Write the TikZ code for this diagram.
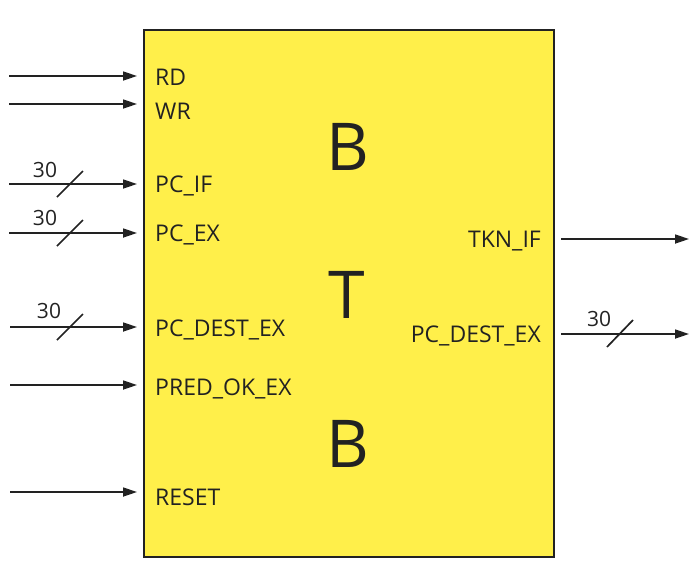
\documentclass[tikz,border=0pt]{standalone}
\usepackage{fontspec}
\setmainfont{Open Sans}
\usetikzlibrary{arrows.meta}
\definecolor{boxyellow}{HTML}{FFEF4A}
\definecolor{ink}{HTML}{222222}
\begin{document}
\begin{tikzpicture}[x=1pt,y=-1pt,
  sig/.style={draw=ink,line width=1.7pt,-{Triangle[length=14pt,width=9pt]}},
  slash/.style={draw=ink,line width=1.7pt},
  lbl/.style={font=\fontsize{23}{27}\selectfont,text=ink,inner sep=0pt},
  big/.style={font=\fontsize{66}{70}\selectfont,text=ink,inner sep=0pt},
  num/.style={font=\fontsize{21}{25}\selectfont,text=ink,inner sep=0pt,anchor=base}]
\useasboundingbox (0,0) rectangle (695,566);
\node[draw=ink,line width=1.8pt,fill=boxyellow,minimum width=410pt,minimum height=527pt,inner sep=0pt,anchor=north west] (box) at (143,29) {};
% big letters
\node[big] (b1) at (348,147) {B};
\node[big] (t1) at (347,295) {T};
\node[big] (b2) at (348,444) {B};
% left labels
\node[lbl,anchor=base west] (rd) at (155,85) {RD};
\node[lbl,anchor=base west] (wr) at (155,119) {WR};
\node[lbl,anchor=base west] (pcif) at (155,192) {PC\_IF};
\node[lbl,anchor=base west] (pcex) at (155,241) {PC\_EX};
\node[lbl,anchor=base west] (pcdl) at (155,336) {PC\_DEST\_EX};
\node[lbl,anchor=base west] (pred) at (155,395) {PRED\_OK\_EX};
\node[lbl,anchor=base west] (rst) at (155,505) {RESET};
% right labels
\node[lbl,anchor=base east] (tkn) at (541,247) {TKN\_IF};
\node[lbl,anchor=base east] (pcdr) at (541,342) {PC\_DEST\_EX};
% coordinates
\coordinate (rdS) at (9,76); \coordinate (rdE) at (137,76);
\coordinate (wrS) at (9,104); \coordinate (wrE) at (137,104);
\coordinate (ifS) at (9,184); \coordinate (ifE) at (137,184);
\coordinate (exS) at (9,233); \coordinate (exE) at (137,233);
\coordinate (dlS) at (10,327); \coordinate (dlE) at (137,327);
\coordinate (prS) at (10,385); \coordinate (prE) at (137,385);
\coordinate (rsS) at (10,492); \coordinate (rsE) at (137,492);
\coordinate (tkS) at (561,239); \coordinate (tkE) at (689,239);
\coordinate (drS) at (561,334); \coordinate (drE) at (689,334);
\draw[sig] (rdS) -- (rdE);
\draw[sig] (wrS) -- (wrE);
\draw[sig] (ifS) -- (ifE);
\draw[sig] (exS) -- (exE);
\draw[sig] (dlS) -- (dlE);
\draw[sig] (prS) -- (prE);
\draw[sig] (rsS) -- (rsE);
\draw[sig] (tkS) -- (tkE);
\draw[sig] (drS) -- (drE);
% bus slashes
\coordinate (s1a) at (57,197); \coordinate (s1b) at (83,171);
\coordinate (s2a) at (57,246); \coordinate (s2b) at (83,220);
\coordinate (s3a) at (57,340); \coordinate (s3b) at (83,314);
\coordinate (s4a) at (607,347); \coordinate (s4b) at (633,320);
\draw[slash] (s1a) -- (s1b);
\draw[slash] (s2a) -- (s2b);
\draw[slash] (s3a) -- (s3b);
\draw[slash] (s4a) -- (s4b);
\node[num] (n1) at (45,177) {30};
\node[num] (n2) at (45,225) {30};
\node[num] (n3) at (49,318) {30};
\node[num] (n4) at (599,326) {30};
\end{tikzpicture}
\end{document}
